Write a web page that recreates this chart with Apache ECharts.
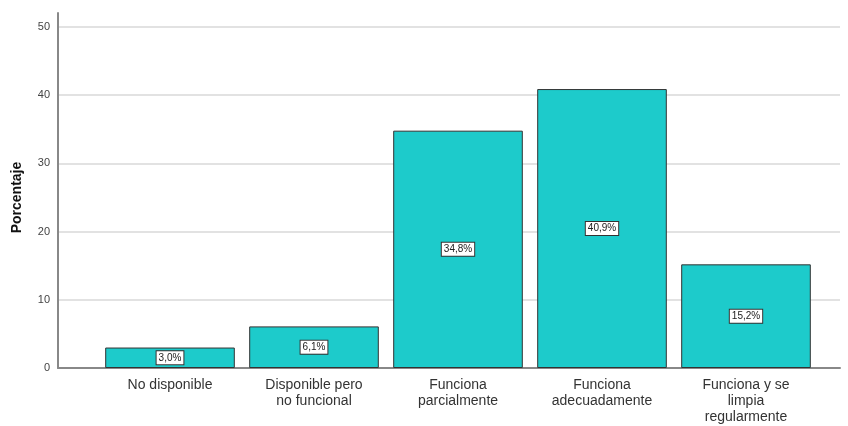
<!DOCTYPE html>
<html><head><meta charset="utf-8">
<script src="https://cdn.jsdelivr.net/npm/echarts@6/dist/echarts.min.js"></script>
<style>html,body{margin:0;padding:0;background:#fff}#c{width:848px;height:426px}</style>
</head><body><div id="c"></div>
<script>
const categories = ['No disponible', 'Disponible pero\nno funcional', 'Funciona\nparcialmente', 'Funciona\nadecuadamente', 'Funciona y se\nlimpia\nregularmente'];
const values = [3.0, 6.1, 34.8, 40.9, 15.2];
const yTicks = [0, 10, 20, 30, 40, 50];
const yName = 'Porcentaje';

const chart = echarts.init(document.getElementById('c'));
const gTop = 27, gBottom = 426 - 368;
chart.setOption({
  animation: false,
  grid: [
    {left: 58, right: 8, top: gTop, bottom: gBottom},
    {left: 98, right: 30, top: gTop, bottom: gBottom},
    {left: 58, right: 8, top: 13, bottom: gBottom}
  ],
  xAxis: [
    {gridIndex: 0, type: 'category', data: [''], axisLine: {lineStyle: {color: '#888', width: 2}}, axisTick: {show: false}, axisLabel: {show: false}},
    {gridIndex: 1, type: 'category', data: categories, axisLine: {show: false}, axisTick: {show: false},
     axisLabel: {color: '#333', fontSize: 14, fontFamily: 'Liberation Sans, Arial', lineHeight: 16, margin: 9, interval: 0}},
    {gridIndex: 2, type: 'category', data: [''], show: false}
  ],
  yAxis: [
    {gridIndex: 0, type: 'value', min: 0, max: 50, interval: 10,
     name: yName, nameLocation: 'middle', nameGap: 34, nameRotate: 90,
     nameTextStyle: {fontWeight: 'bold', fontSize: 14, color: '#111', fontFamily: 'Liberation Sans, Arial'},
     axisLine: {show: false}, axisTick: {show: false},
     axisLabel: {color: '#444', fontSize: 11, fontFamily: 'Liberation Sans, Arial', margin: 8,
       formatter: v => yTicks.includes(v) ? String(v) : ''},
     splitLine: {lineStyle: {color: '#d9d9d9', width: 1.5}}},
    {gridIndex: 1, type: 'value', min: 0, max: 50, interval: 10, show: false, splitLine: {show: false}},
    {gridIndex: 2, type: 'value', min: 0, max: 1, axisLine: {show: true, lineStyle: {color: '#888', width: 2}},
     axisTick: {show: false}, axisLabel: {show: false}, splitLine: {show: false}}
  ],
  series: [{
    type: 'bar', xAxisIndex: 1, yAxisIndex: 1, data: values, barCategoryGap: '10%',
    itemStyle: {color: '#1dcbcb', borderColor: '#333', borderWidth: 1},
    label: {show: true, position: 'inside', formatter: p => p.value.toFixed(1).replace('.', ',') + '%',
      color: '#222', fontSize: 10, fontFamily: 'Liberation Sans, Arial', backgroundColor: '#fff',
      borderColor: '#333', borderWidth: 1, padding: [2, 2, 1, 2]}
  }]
});
</script></body></html>
